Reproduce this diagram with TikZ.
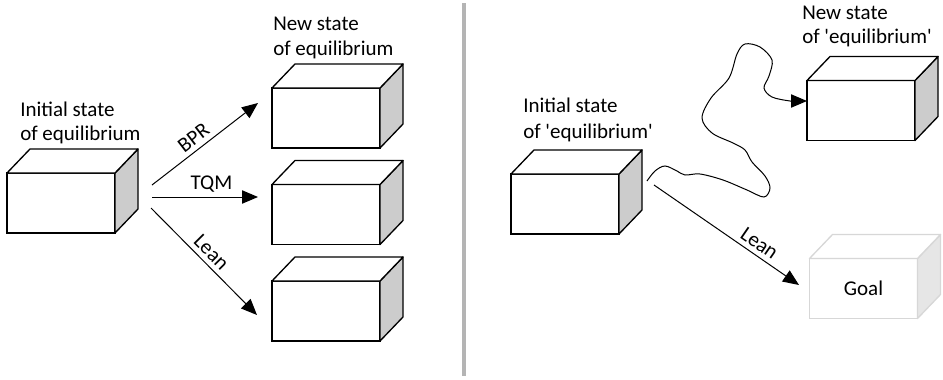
\documentclass[tikz,border=0pt]{standalone}
\usepackage{fontspec}
\setmainfont{Carlito}
\usetikzlibrary{arrows.meta}
\definecolor{sidegray}{RGB}{204,204,204}
\definecolor{goaledge}{RGB}{215,215,215}
\definecolor{goalside}{RGB}{230,230,230}
\definecolor{sepgray}{RGB}{180,180,180}
\tikzset{
  txt/.style={font=\fontsize{15.75}{18}\selectfont, inner sep=0pt, anchor=base west},
  front/.style={draw=black, line width=1pt, fill=white, minimum width=81pt, minimum height=45pt, inner sep=0pt, outer sep=0pt, font=\fontsize{15.75}{18}\selectfont},
  goalfront/.style={front, draw=goaledge},
  flow/.style={line width=0.75pt, -{Triangle[length=12pt,width=10pt]}},
  lbl/.style={font=\fontsize{15.75}{18}\selectfont, sloped, above, inner sep=3.5pt}
}
\newcommand{\boxfaces}[3]{%
  \filldraw[fill=#2, draw=#3, line width=1pt, line join=round] (#1.north east) -- ++(23,-24) -- ++(0,60) -- (#1.south east) -- cycle;
  \filldraw[fill=white, draw=#3, line width=1pt, line join=round] (#1.north west) -- ++(23,-24) -- ++(108,0) -- (#1.north east) -- cycle;
}
\begin{document}
\begin{tikzpicture}[x=0.75pt, y=-0.75pt]
\useasboundingbox (0,0) rectangle (943,379);

% separator
\draw[sepgray, line width=3pt] (464,3) -- (464,376);

% ---------- left panel ----------
\node[txt] (t1a) at (20,116) {Initial state};
\node[txt] (t1b) at (20,140) {of equilibrium};
\node[txt] (t2a) at (273,30) {New state};
\node[txt] (t2b) at (273,55) {of equilibrium};

\node[front] (L0) at (61,203) {};
\boxfaces{L0}{sidegray}{black}
\node[front] (N1) at (326,118) {};
\boxfaces{N1}{sidegray}{black}
\node[front] (N2) at (326,214.5) {};
\boxfaces{N2}{sidegray}{black}
\node[front] (N3) at (326,311) {};
\boxfaces{N3}{sidegray}{black}

\coordinate (s1) at (152,185);
\coordinate (e1) at (258,103);
\coordinate (s2) at (152,197);
\coordinate (e2) at (258,197);
\coordinate (s3) at (151,208);
\coordinate (e3) at (257,315);
\draw[flow] (s1) -- node[lbl, pos=0.46] (lb1) {BPR} (e1);
\draw[flow] (s2) -- node[lbl, pos=0.56] (lb2) {TQM} (e2);
\draw[flow] (s3) -- node[lbl, pos=0.49] (lb3) {Lean} (e3);

% ---------- right panel ----------
\node[txt] (t3a) at (523,112) {Initial state};
\node[txt] (t3b) at (523,138) {of \textquotesingle equilibrium\textquotesingle};
\node[txt] (t4a) at (802,19) {New state};
\node[txt] (t4b) at (802,43) {of \textquotesingle equilibrium\textquotesingle};

\node[front] (R0) at (565,204) {};
\boxfaces{R0}{sidegray}{black}
\node[front] (R1) at (861,110.5) {};
\boxfaces{R1}{sidegray}{black}
\node[goalfront] (G) at (863.5,288.5) {Goal};
\boxfaces{G}{goalside}{goaledge}

\coordinate (q1) at (800,101);
\coordinate (qe) at (807,101);
\draw[line width=0.75pt] plot[smooth, tension=0.55] coordinates {
 (647,181) (655,171) (665,166) (677,171) (685,175) (700,174) (723,180)
 (747,190) (764,197) (770,188) (765,176) (752,162) (745,150) (733,143)
 (712,133) (702,118) (711,98) (729,78) (737,54) (745,44) (760,47)
 (772,60) (769,76) (764,88) (772,97) (790,101) (800,101)};
\draw[flow] (q1) -- (qe);

\coordinate (s4) at (654,185);
\coordinate (e4) at (799,285);
\draw[flow] (s4) -- node[lbl, pos=0.68] (lb4) {Lean} (e4);
\end{tikzpicture}
\end{document}
